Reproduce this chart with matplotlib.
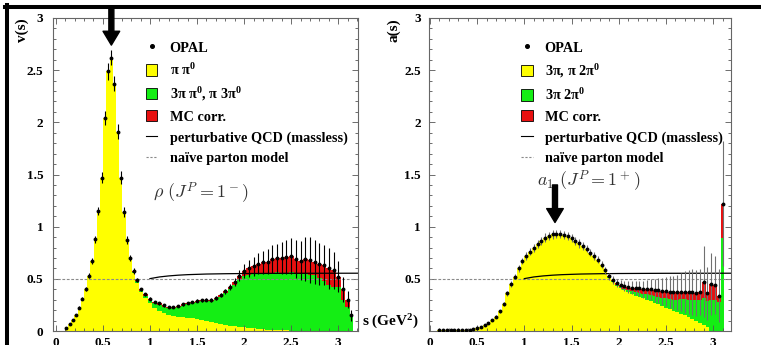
import numpy as np
import matplotlib
matplotlib.use("Agg")
import matplotlib.pyplot as plt
from matplotlib.lines import Line2D
from matplotlib.patches import Patch
from matplotlib.ticker import MultipleLocator, FuncFormatter

plt.rcParams["font.family"] = "Liberation Serif"
plt.rcParams["font.weight"] = "bold"
plt.rcParams["mathtext.fontset"] = "custom"
plt.rcParams["mathtext.rm"] = "Liberation Serif:bold"
plt.rcParams["mathtext.bf"] = "Liberation Serif:bold"
plt.rcParams["mathtext.it"] = "Liberation Serif:italic:bold"

# ---- vector channel v(s): bin centres (GeV^2) ----
s_v = np.concatenate([np.round(0.112 + 0.034 * np.arange(23), 3),
                      np.round(np.arange(0.90, 3.11, 0.05), 2), [3.14]])

# OPAL unfolded v(s)
v_opal = [0.026, 0.064, 0.105, 0.153, 0.223, 0.31, 0.40, 0.53, 0.67, 0.88, 1.15, 1.47,
          2.04, 2.49, 2.62, 2.37, 1.91, 1.47, 1.14, 0.87, 0.70, 0.575, 0.49,
          0.40, 0.35, 0.31, 0.28, 0.265, 0.245, 0.23, 0.228, 0.24, 0.255,
          0.27, 0.28, 0.29, 0.295, 0.30, 0.30, 0.315, 0.345, 0.38, 0.425,
          0.47, 0.53, 0.575, 0.60, 0.62, 0.645, 0.66, 0.665, 0.69, 0.695,
          0.70, 0.71, 0.72, 0.69, 0.675, 0.69, 0.68, 0.66, 0.645, 0.63,
          0.60, 0.58, 0.52, 0.40, 0.30, 0.15]
v_err = [0.005, 0.008, 0.01, 0.01, 0.012, 0.015, 0.02, 0.025, 0.03, 0.035, 0.04, 0.05,
         0.07, 0.08, 0.07, 0.07, 0.07, 0.06, 0.05, 0.04, 0.03, 0.025, 0.02]
v_err += [0.012] * 13
v_err += [0.015, 0.015, 0.018, 0.02, 0.022, 0.025, 0.03]
v_err += [0.04, 0.05, 0.07, 0.08, 0.09, 0.10, 0.11, 0.12, 0.13, 0.14,
          0.15, 0.16, 0.17, 0.18, 0.19, 0.21, 0.22, 0.21, 0.20, 0.19,
          0.20, 0.18, 0.15, 0.12, 0.08, 0.05]
# pi pi0 channel
v_pipi = [0.026, 0.064, 0.105, 0.153, 0.223, 0.31, 0.40, 0.53, 0.67, 0.88, 1.15, 1.47,
          2.04, 2.49, 2.62, 2.37, 1.91, 1.47, 1.14, 0.87, 0.685, 0.555, 0.46,
          0.37, 0.32, 0.265, 0.225, 0.195, 0.17, 0.155, 0.145, 0.135, 0.13,
          0.125, 0.12, 0.115, 0.105, 0.095, 0.085, 0.075, 0.065, 0.058, 0.052,
          0.046, 0.04, 0.035, 0.03, 0.025, 0.02, 0.017, 0.014, 0.011, 0.009,
          0.007, 0.005, 0.004, 0.003, 0.002, 0, 0, 0, 0, 0,
          0, 0, 0, 0, 0, 0]
# 3pi pi0, pi 3pi0 channels
v_multi = [0] * 20 + [0.005, 0.012, 0.02,
           0.018, 0.018, 0.033, 0.043, 0.058, 0.063, 0.063, 0.071, 0.093, 0.113,
           0.133, 0.148, 0.163, 0.178, 0.193, 0.203, 0.228, 0.265, 0.307, 0.353,
           0.399, 0.46, 0.495, 0.51, 0.525, 0.535, 0.543, 0.541, 0.549, 0.556,
           0.553, 0.555, 0.566, 0.547, 0.543, 0.55, 0.54, 0.54, 0.505, 0.48,
           0.44, 0.425, 0.42, 0.30, 0.23, 0.15]

# ---- axial-vector channel a(s) ----
s_a = np.round(np.arange(0.10, 3.11, 0.04), 2)

a_opal = [0.008, 0.008, 0.008, 0.009, 0.009, 0.010, 0.010, 0.011, 0.012, 0.016,
          0.026, 0.040, 0.058, 0.080, 0.103, 0.138, 0.19, 0.26, 0.36, 0.45,
          0.52, 0.60, 0.67, 0.72, 0.76, 0.795, 0.835, 0.865, 0.895, 0.91,
          0.925, 0.93, 0.927, 0.92, 0.91, 0.89, 0.865, 0.84, 0.815, 0.79,
          0.75, 0.72, 0.685, 0.635, 0.58, 0.525, 0.49, 0.46, 0.445, 0.43,
          0.42, 0.415, 0.41, 0.41, 0.40, 0.40, 0.40, 0.39, 0.39, 0.38,
          0.38, 0.375, 0.37, 0.37, 0.375, 0.375, 0.37, 0.37, 0.365, 0.37,
          0.47, 0.36, 0.45, 0.44, 0.34, 1.22]
a_err = [0.004] * 10
a_err += [0.005, 0.006, 0.007, 0.008, 0.01, 0.012, 0.015]
a_err += [0.02, 0.02, 0.025, 0.025, 0.03, 0.03, 0.035, 0.035, 0.035, 0.04,
          0.04, 0.04, 0.04, 0.04, 0.04, 0.04, 0.04, 0.04, 0.04, 0.04,
          0.04, 0.035, 0.035, 0.035, 0.035, 0.035, 0.035, 0.035]
a_err += [0.035, 0.04, 0.04, 0.045, 0.05, 0.055, 0.06, 0.065, 0.07, 0.08,
          0.09, 0.10, 0.11, 0.12, 0.13, 0.14, 0.15, 0.16, 0.17, 0.18,
          0.20, 0.21, 0.22, 0.22, 0.22, 0.34, 0.25, 0.30, 0.28, 0.25, 0.60]
# 3pi, pi 2pi0 channels
a_3pi = [0.008, 0.008, 0.008, 0.009, 0.009, 0.010, 0.010, 0.011, 0.012, 0.016,
         0.026, 0.040, 0.058, 0.080, 0.103, 0.138, 0.19, 0.26, 0.36, 0.45,
         0.52, 0.60, 0.67, 0.72, 0.76, 0.795, 0.835, 0.865, 0.895, 0.91,
         0.925, 0.93, 0.927, 0.92, 0.91, 0.89, 0.865, 0.84, 0.815, 0.79,
         0.75, 0.72, 0.685, 0.635, 0.58,
         0.51, 0.465, 0.43, 0.41, 0.39, 0.37, 0.355, 0.34, 0.33, 0.315,
         0.30, 0.285, 0.27, 0.255, 0.24, 0.225, 0.21, 0.195, 0.18, 0.165,
         0.15, 0.135, 0.115, 0.10, 0.08, 0.06, 0.04, 0, 0, 0, 0]
# 3pi 2pi0 channel
a_5pi = [0] * 45 + [0.005, 0.01, 0.01, 0.01, 0.015, 0.02, 0.025, 0.03, 0.035, 0.04,
                    0.05, 0.06, 0.065, 0.075, 0.08, 0.09, 0.10, 0.105, 0.12, 0.14,
                    0.155, 0.165, 0.185, 0.195, 0.22, 0.26, 0.25, 0.30, 0.30, 0.28, 0.89]

# perturbative QCD (massless), same for both channels
qcd_s = [1.0, 1.1, 1.2, 1.3, 1.4, 1.6, 1.8, 2.0, 2.5, 3.3]
qcd_val = [0.502, 0.518, 0.528, 0.535, 0.540, 0.546, 0.549, 0.551, 0.553, 0.554]
parton_val = 0.5

YELLOW = "#ffff00"
GREEN = "#14ee14"
RED = "#e81010"


def bin_edges(centers):
    c = np.asarray(centers, dtype=float)
    mid = 0.5 * (c[1:] + c[:-1])
    return np.concatenate([[c[0] - (mid[0] - c[0])], mid, [c[-1] + (c[-1] - mid[-1])]])


def draw_spectrum(ax, s, opal, low, middle, err, ecolor):
    edges = bin_edges(s)
    opal = np.asarray(opal, dtype=float)
    low = np.asarray(low, dtype=float)
    top = low + np.asarray(middle, dtype=float)
    ax.stairs(low, edges, baseline=0, fill=True, color=YELLOW, lw=0, zorder=1)
    ax.stairs(top, edges, baseline=low, fill=True, color=GREEN, lw=0, zorder=1)
    # MC correction fills the gap up to the measured spectrum
    ax.stairs(np.maximum(opal, top), edges, baseline=top, fill=True, color=RED, lw=0, zorder=1)
    ax.axhline(parton_val, color="#8a8a8a", lw=0.8, ls=(0, (2.5, 1.5)), zorder=2)
    ax.plot(qcd_s, qcd_val, color="k", lw=0.9, zorder=2)
    ax.errorbar(s, opal, yerr=err, fmt="o", ms=2.8, mfc="k", mec="k", mew=0,
                ecolor=ecolor, elinewidth=0.8, capsize=0, zorder=4)


def style_axes(ax, xlim, ypad):
    ax.set_xlim(*xlim)
    ax.set_ylim(0, 3)
    for a in (ax.xaxis, ax.yaxis):
        a.set_major_locator(MultipleLocator(0.5))
        a.set_minor_locator(MultipleLocator(0.1))
        a.set_major_formatter(FuncFormatter(lambda v, p: f"{v:g}"))
    ax.tick_params(which="both", direction="in", top=True, right=True,
                   color="#555555", width=0.6, labelsize=9.5)
    ax.tick_params(which="major", length=4.5)
    ax.tick_params(which="minor", length=2.5)
    ax.tick_params(axis="x", pad=4)
    ax.tick_params(axis="y", pad=ypad)
    for sp in ax.spines.values():
        sp.set_color("#666666")
        sp.set_linewidth(0.8)


def add_legend(ax, labels):
    handles = [Line2D([], [], ls="none", marker="o", ms=2.6, color="k"),
               Patch(fc=YELLOW, ec="k", lw=0.6),
               Patch(fc=GREEN, ec="k", lw=0.6),
               Patch(fc=RED, ec="k", lw=0.6),
               Line2D([], [], color="k", lw=0.8),
               Line2D([], [], color="#8a8a8a", lw=0.8, ls=(0, (2, 1.5)))]
    ax.legend(handles, labels, loc="upper left", bbox_to_anchor=(0.305, 0.926),
              frameon=False, fontsize=10.3, handlelength=0.8, handleheight=0.85,
              handletextpad=0.85, labelspacing=0.5, borderpad=0, borderaxespad=0)


fig = plt.figure(figsize=(7.61, 3.45), dpi=100)
ax_v = fig.add_axes([53 / 761, 14 / 345, 305 / 761, 313 / 345])
ax_a = fig.add_axes([429 / 761, 14 / 345, 302 / 761, 313 / 345])

draw_spectrum(ax_v, s_v, v_opal, v_pipi, v_multi, v_err, "k")
draw_spectrum(ax_a, s_a, a_opal, a_3pi, a_5pi, a_err, "#707070")

style_axes(ax_v, (-0.03, 3.21), 7)
style_axes(ax_a, (-0.01, 3.19), 5.8)
ax_a.yaxis.set_major_formatter(FuncFormatter(lambda v, p: "" if v == 0 else f"{v:g}"))

add_legend(ax_v, ["OPAL", "π π$^0$", "3π π$^0$, π 3π$^0$", "MC corr.",
                  "perturbative QCD (massless)", "naïve parton model"])
add_legend(ax_a, ["OPAL", "3π, π 2π$^0$", "3π 2π$^0$", "MC corr.",
                  "perturbative QCD (massless)", "naïve parton model"])

ax_v.text(-0.102, 1.0, "v(s)", rotation=90, ha="center", va="top",
          fontsize=11, transform=ax_v.transAxes)
ax_a.text(-0.116, 1.0, "a(s)", rotation=90, ha="center", va="top",
          fontsize=11, transform=ax_a.transAxes)
ax_v.text(1.013, 0.029, "s (GeV$^2$)", ha="left", va="center", fontsize=11,
          transform=ax_v.transAxes, clip_on=False)

ax_v.text(0.328, 0.441, r"$\rho\ (J^P = 1^-)$", math_fontfamily="cm", fontsize=13,
          color="#333333", ha="left", va="center", transform=ax_v.transAxes)
ax_a.text(0.357, 0.477, r"$a_1\ (J^P = 1^+)$", math_fontfamily="cm", fontsize=13,
          color="#333333", ha="left", va="center", transform=ax_a.transAxes)

# resonance markers
arrow = dict(facecolor="k", edgecolor="k", width=3.6, headwidth=12, headlength=10, shrink=0)
ax_v.annotate("", xy=(0.59, 2.74), xytext=(0.59, 3.11), arrowprops=arrow,
              annotation_clip=False)
ax_a.annotate("", xy=(1.325, 1.04), xytext=(1.325, 1.40), arrowprops=arrow)

# page frame lines
fig.add_artist(Line2D([5 / 761, 1.0], [1 - 7 / 345, 1 - 7 / 345], color="k", lw=2.9,
                      transform=fig.transFigure))
fig.add_artist(Line2D([6.5 / 761, 6.5 / 761], [1 - 5 / 345, 0.0], color="k", lw=2.9,
                      transform=fig.transFigure))

fig.savefig("out.png", dpi=100)
